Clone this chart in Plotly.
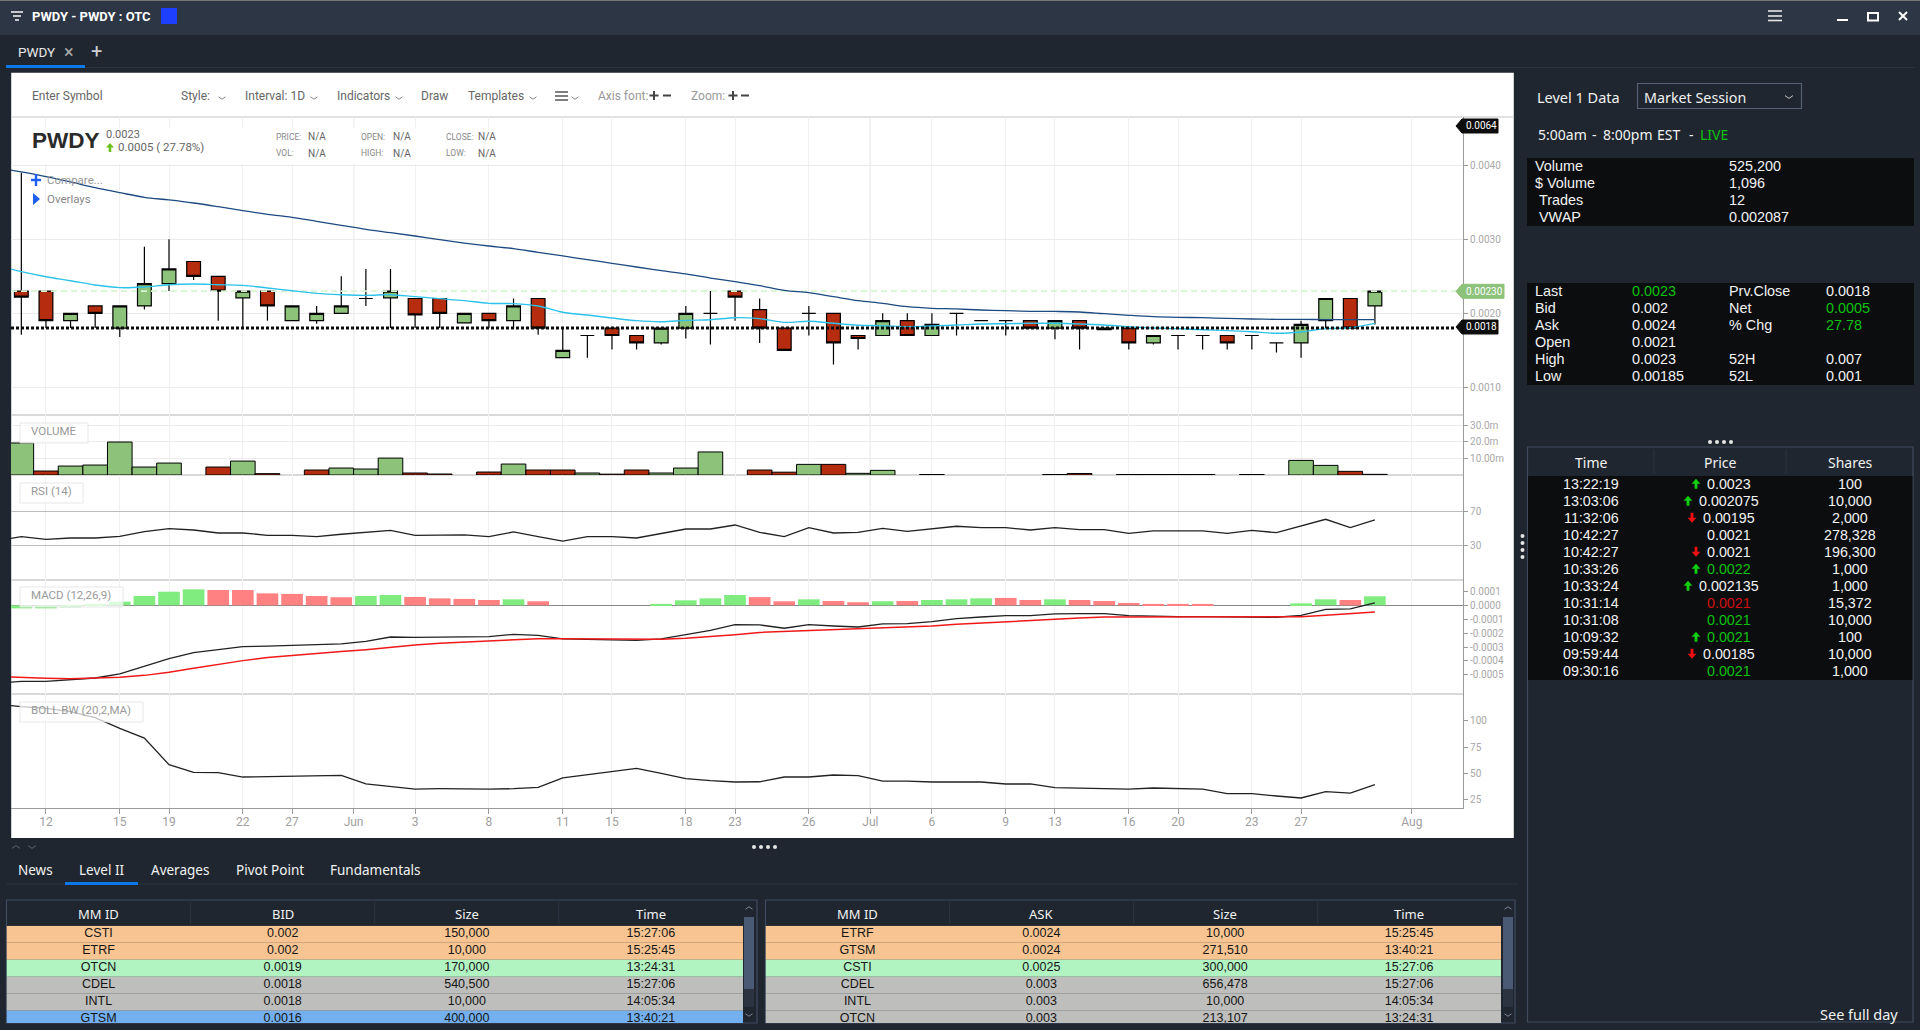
import plotly.graph_objects as go

W, H = 1920, 1030

# ---------- chart data ----------
idx = list(range(56))
line_idx = [-1] + idx
opens = [0.0023,0.0023,0.0019,0.0021,0.0018,0.0021,0.0024,0.0027,0.0025,0.00221,0.0023,0.0019,0.0019,0.0020,0.0022,0.00221,
         0.0022,0.0022,0.00187,0.0020,0.0019,0.0022,0.0014,0.0017,0.0018,0.0017,0.0016,0.0018,0.0020,0.0023,0.00205,0.0018,
         0.0020,0.0020,0.0017,0.0017,0.0019,0.0017,0.0020,0.0019,0.0019,0.0019,0.0018,0.0019,0.0018,0.0018,0.0016,0.0017,
         0.0017,0.0017,0.0017,0.0016,0.0016,0.0019,0.0022,0.0021]
highs = [0.0039,0.0023,0.0020,0.0021,0.0021,0.0029,0.0030,0.0027,0.0025,0.0023,0.0023,0.0021,0.0021,0.0025,0.0026,0.0026,
         0.0022,0.0022,0.0020,0.0020,0.0022,0.0022,0.0018,0.0017,0.0018,0.0017,0.0018,0.0021,0.0023,0.0023,0.0022,0.0018,
         0.0021,0.0020,0.0017,0.0020,0.0020,0.0020,0.0020,0.0019,0.0019,0.0019,0.0019,0.0019,0.0018,0.0018,0.0017,0.0017,
         0.0017,0.0017,0.0017,0.0016,0.0019,0.0022,0.0022,0.0023]
lows = [0.00171,0.0018,0.0018,0.0018,0.00168,0.00205,0.0023,0.00245,0.0019,0.0018,0.0019,0.0019,0.00186,0.0020,0.0021,0.0018,
        0.0018,0.0018,0.00187,0.0018,0.0018,0.00171,0.0014,0.0014,0.00151,0.00151,0.00158,0.00166,0.00158,0.0019,0.0016,0.0015,
        0.0017,0.00131,0.00151,0.0017,0.0017,0.0017,0.0017,0.0019,0.0017,0.0018,0.00165,0.00151,0.00178,0.00151,0.00158,0.00151,
        0.00151,0.00151,0.00151,0.00147,0.0014,0.0018,0.0018,0.00185]
closes = [0.00222,0.0019,0.0020,0.0020,0.0021,0.0024,0.0026,0.0025,0.0023,0.0023,0.0021,0.0021,0.0020,0.0021,0.0022,0.0023,
          0.00198,0.0020,0.0020,0.0019,0.0021,0.0018,0.0015,0.0017,0.0017,0.0016,0.0018,0.0020,0.0020,0.00222,0.0018,0.0015,
          0.0020,0.0016,0.00166,0.0019,0.0017,0.00185,0.0020,0.0019,0.0019,0.0018,0.0019,0.0018,0.00178,0.0016,0.0017,0.0017,
          0.0017,0.0016,0.0017,0.0016,0.00185,0.0022,0.0018,0.0023]
slow_ma = [0.003968,0.00391,0.003847,0.003775,0.003698,0.003631,0.003568,0.003532,0.003491,0.003441,0.003387,0.003338,0.003297,0.003243,0.003189,0.003135,0.00309,
           0.003045,0.002995,0.00295,0.00291,0.002874,0.002824,0.002775,0.002725,0.002676,0.002626,0.002577,0.002532,0.002477,0.002428,0.002374,0.002311,
           0.002279,0.002225,0.002171,0.002135,0.00209,0.002068,0.002059,0.002045,0.002036,0.002027,0.002025,0.002018,0.001995,0.001973,0.001955,0.001946,
           0.001941,0.001932,0.001923,0.001919,0.001919,0.001914,0.001914,0.001914]
fast_ma = [0.002649,0.002563,0.002495,0.002441,0.002383,0.002347,0.002356,0.002387,0.002396,0.002387,0.002378,0.002342,0.002306,0.00227,0.002252,0.002243,0.002252,
           0.002225,0.002198,0.002171,0.002135,0.002131,0.002099,0.002014,0.001977,0.001937,0.001901,0.001887,0.001905,0.001914,0.001941,0.001928,0.001878,
           0.001892,0.001865,0.001838,0.001833,0.00182,0.001829,0.001842,0.001856,0.00186,0.001865,0.001865,0.001856,0.001842,0.00182,0.001802,0.001793,
           0.001779,0.001766,0.001752,0.00173,0.001748,0.001793,0.001806,0.001865]
volume = [19.3,2.4,5.4,6.0,19.9,4.8,7.2,None,4.8,8.4,0.8,None,3.0,4.2,3.6,10.2,1.2,0.6,None,1.8,6.6,3.0,3.0,1.2,0.5,3.0,1.2,4.2,13.9,None,
          3.0,1.7,6.4,6.4,1.0,2.8,None,0.3,None,None,None,None,0.3,0.9,None,0.3,0.3,0.3,0.3,None,0.3,None,8.8,5.8,2.2,0.4]
volume_side = ["g","r","g","g","g","g","g","g","r","g","r","g","r","g","g","g","r","r","g","r","g","r","r","g","r","r","g","g","g","g",
               "r","r","g","r","g","g","g","r","g","g","g","g","r","r","g","r","r","r","r","g","r","g","g","g","r","r"]
rsi = [35.5,40.2,37,38.6,38.6,40.6,46.1,49.6,48,44.5,44.5,41.8,41.8,40.2,43,45.3,47.6,41.8,42.2,42.2,40.2,45.7,40.2,35,40.2,40.2,38.6,44.1,49.2,49.2,53.9,45.3,40.2,
       50.8,44.5,45.3,50,46.5,49.6,52.4,50.8,50.8,48,50.8,48.4,48.4,44.1,46.9,46.9,46.9,44.1,47.6,44.9,52.4,60.6,50.8,59.8]
macd_hist = [-0.22,-0.22,-0.14,0.07,0.26,0.67,0.98,1.15,1.1,1.1,0.86,0.82,0.67,0.58,0.67,0.74,0.6,0.5,0.46,0.38,0.43,0.29,0,0,0,0,0.1,0.36,0.5,0.74,0.59,0.29,
             0.43,0.31,0.22,0.29,0.31,0.38,0.43,0.5,0.53,0.38,0.43,0.38,0.31,0.17,0.1,0.1,0.1,0,0,0,0.14,0.43,0.38,0.65]
hist_side = ["g","g","g","g","g","g","g","g","r","r","r","r","r","r","g","g","r","r","r","r","g","r","g","g","g","g","g","g","g","g","r","r",
             "g","r","r","g","r","g","g","g","r","r","g","r","r","r","r","r","r","g","g","g","g","g","r","g"]
macd_line = [-5.61,-5.47,-5.47,-5.35,-5.23,-4.94,-4.41,-3.84,-3.41,-3.19,-2.97,-2.93,-2.88,-2.88,-2.78,-2.59,-2.28,-2.3,-2.28,-2.25,-2.25,-2.09,-2.16,-2.42,-2.47,-2.47,-2.52,-2.42,-2.09,-1.8,-1.39,-1.41,-1.65,
             -1.39,-1.49,-1.56,-1.34,-1.32,-1.18,-0.96,-0.84,-0.74,-0.74,-0.62,-0.6,-0.6,-0.74,-0.79,-0.82,-0.82,-0.84,-0.84,-0.86,-0.72,-0.29,-0.26,0.17]
macd_signal = [-5.13,-5.2,-5.25,-5.28,-5.25,-5.18,-5.04,-4.82,-4.53,-4.24,-3.98,-3.76,-3.6,-3.45,-3.33,-3.19,-3.0,-2.85,-2.73,-2.64,-2.54,-2.47,-2.4,-2.4,-2.42,-2.45,-2.47,-2.45,-2.37,-2.25,-2.11,-1.95,-1.89,
               -1.8,-1.75,-1.68,-1.63,-1.56,-1.49,-1.37,-1.27,-1.18,-1.08,-0.98,-0.91,-0.84,-0.84,-0.82,-0.82,-0.82,-0.84,-0.84,-0.84,-0.82,-0.72,-0.62,-0.48]
boll_bw = [115.8,113.3,111.7,108.5,102.8,92.7,83.5,58.2,50.9,50.6,46.5,46.8,46.8,47.5,48.1,39.9,37.3,35.1,35.4,35.1,35.1,35.4,36.7,45.6,48.7,51.9,54.7,50,44.9,43,41.8,42,46.5,
           46.5,48.4,47.8,42.7,42.7,41.8,41.8,41.8,39.9,39.9,36.4,35.8,35.1,35.1,36.1,35.8,35.1,30.7,30.7,28.5,26.6,32.6,31.3,39.2]
last_price = 0.0023
prev_close = 0.0018

x_ticks = [1,4,6,9,11,13.5,16,19,22,24,27,29,32,34.5,37,40,42,45,47,50,52,56.5]
x_labels = ["12","15","19","22","27","Jun","3","8","11","15","18","23","26","Jul","6","9","13","16","20","23","27","Aug"]
month_ticks = [13.5, 34.5]
price_ticks = [0.001,0.002,0.003,0.004]
price_labels = ["0.0010","0.0020","0.0030","0.0040"]
vol_ticks = [10,20,30]
vol_labels = ["10.00m","20.0m","30.0m"]
rsi_ticks = [30,70]
macd_ticks = [1,0,-1,-2,-3,-4,-5]
macd_labels = ["0.0001","0.0000","-0.0001","-0.0002","-0.0003","-0.0004","-0.0005"]
boll_ticks = [25,50,75,100]

# ---------- side tables ----------
bid_rows = [["CSTI","0.002","150,000","15:27:06"],["ETRF","0.002","10,000","15:25:45"],["OTCN","0.0019","170,000","13:24:31"],
            ["CDEL","0.0018","540,500","15:27:06"],["INTL","0.0018","10,000","14:05:34"],["GTSM","0.0016","400,000","13:40:21"]]
ask_rows = [["ETRF","0.0024","10,000","15:25:45"],["GTSM","0.0024","271,510","13:40:21"],["CSTI","0.0025","300,000","15:27:06"],
            ["CDEL","0.003","656,478","15:27:06"],["INTL","0.003","10,000","14:05:34"],["OTCN","0.003","213,107","13:24:31"]]
bid_colors = ["#f8c592","#f8c592","#b1f3c1","#bebebc","#bebebc","#74b0f0"]
ask_colors = ["#f8c592","#f8c592","#b1f3c1","#bebebc","#bebebc","#bebebc"]
bid_head = ["MM ID","BID","Size","Time"]
ask_head = ["MM ID","ASK","Size","Time"]
trades = [("13:22:19","u","0.0023","w","100"),("13:03:06","u","0.002075","w","10,000"),("11:32:06","d","0.00195","w","2,000"),
          ("10:42:27","","0.0021","w","278,328"),("10:42:27","d","0.0021","w","196,300"),("10:33:26","u","0.0022","g","1,000"),
          ("10:33:24","u","0.002135","w","1,000"),("10:31:14","","0.0021","r","15,372"),("10:31:08","","0.0021","g","10,000"),
          ("10:09:32","u","0.0021","g","100"),("09:59:44","d","0.00185","w","10,000"),("09:30:16","","0.0021","g","1,000")]
level1_a = [("Volume",1535,"525,200"),("$ Volume",1535,"1,096"),("Trades",1539,"12"),("VWAP",1539,"0.002087")]
level1_b = [("Last","0.0023","g","Prv.Close","0.0018","w"),("Bid","0.002","w","Net","0.0005","g"),("Ask","0.0024","w","% Chg","27.78","g"),
            ("Open","0.0021","w","","","w"),("High","0.0023","w","52H","0.007","w"),("Low","0.00185","w","52L","0.001","w")]
session_words = [("5:00am",1537.7),("-",1591.7),("8:00pm",1603),("EST",1657),("-",1689)]
tabs = [("News",35),("Level II",101.5),("Averages",180),("Pivot Point",270),("Fundamentals",375)]
toolbar = [("Enter Symbol",31.5,"#666"),("Style:",181,"#666"),("Interval: 1D",245,"#666"),("Indicators",337,"#666"),("Draw",421,"#666"),
           ("Templates",468,"#666"),("Axis font:",598,"#999"),("Zoom:",691,"#999")]
chevrons = [222,314,399,533,575]

# ---------- pixel layout ----------
PL, PR = 11, 1463
panels = {"":(117,415),"2":(415,475),"3":(475,580),"4":(580,694),"5":(694,808)}
X_RANGE = [-0.42, 58.58]
GRID = "#ebebeb"
AXC = "#9a9a9a"
TICK = dict(family="Roboto", size=10, color="#a8a8a8")
BG, TITLEBG, BLACK = "#1f2630", "#2c3645", "#0b0d0f"
WHITE, GREEN_T, RED_T = "#f2f2f2", "#10c010", "#d01010"

px = lambda x: x / W
py = lambda y: 1 - y / H
shapes, notes = [], []

def rect(x0, y0, x1, y1, fill, line=None, lw=1, layer="below"):
    shapes.append(dict(type="rect", xref="paper", yref="paper", x0=px(x0), x1=px(x1), y0=py(y1), y1=py(y0),
                       fillcolor=fill, line=dict(color=line or "rgba(0,0,0,0)", width=lw if line else 0), layer=layer))

def poly(points, color=None, fill=None, lw=1.2, layer="above", close=False):
    d = "M" + " L".join(f"{px(a):.5f},{py(b):.5f}" for a, b in points) + (" Z" if close else "")
    shapes.append(dict(type="path", path=d, xref="paper", yref="paper", fillcolor=fill or "rgba(0,0,0,0)",
                       line=dict(color=color or "rgba(0,0,0,0)", width=lw if color else 0), layer=layer))

def hline(x0, x1, y, color, lw=1, layer="below"):
    poly([(x0, y), (x1, y)], color=color, lw=lw, layer=layer)

def vline(x, y0, y1, color, lw=1, layer="below"):
    poly([(x, y0), (x, y1)], color=color, lw=lw, layer=layer)

def chevron(x, y, s=4, color="#888", up=False):
    d = -s*0.7 if up else s*0.7
    poly([(x-s, y-d/2), (x, y+d/2), (x+s, y-d/2)], color=color, lw=1)

def dot(x, y, r=2, color="#e6e6e6"):
    shapes.append(dict(type="circle", xref="paper", yref="paper", x0=px(x-r), x1=px(x+r), y0=py(y+r), y1=py(y-r),
                       fillcolor=color, line=dict(width=0), layer="above"))

def arrow_mark(x, y, up, color, s=1.1):
    k = -1 if up else 1
    pts = [(x, y+k*4.5*s), (x+4*s, y), (x+1.3*s, y), (x+1.3*s, y-k*4.5*s), (x-1.3*s, y-k*4.5*s), (x-1.3*s, y), (x-4*s, y)]
    poly(pts, fill=color, close=True)

def text(x, y, s, size=12, color="#666", font="Roboto", anchor="left"):
    notes.append(dict(text=s, x=px(x), y=py(y), xref="paper", yref="paper", showarrow=False, xanchor=anchor, yanchor="middle",
                      font=dict(family=font, size=size, color=color), borderpad=0, borderwidth=0))

SANS, ARIAL = "Noto Sans", "Liberation Sans"
shade = {"w": WHITE, "g": GREEN_T, "r": RED_T}

# window chrome
rect(0, 0, W, 35, TITLEBG)
hline(0, W, 0.5, "#777")
poly([(11,12),(23,12)], color="#eee", lw=1.6); poly([(13,16),(21,16)], color="#eee", lw=1.6); poly([(15,20),(19,20)], color="#eee", lw=1.6)
text(31.5, 16.5, "<b>PWDY - PWDY : OTC</b>", 13, "#ffffff")
rect(161, 8, 177, 24, "#1f3fff")
for yy in (11, 16, 20.5):
    hline(1768, 1782, yy, "#e6e6e6", 1.6, "above")
hline(1837, 1848, 20, "#ffffff", 2, "above")
rect(1868, 13, 1878, 20.5, "rgba(0,0,0,0)", "#ffffff", 2, "above")
poly([(1899,12),(1907,20)], color="#fff", lw=2); poly([(1899,20),(1907,12)], color="#fff", lw=2)
hline(6, 1915, 67.5, "#2c3440")
text(18, 52, "PWDY", 13.5, "#e8e8e8")
text(69, 51, "×", 18, "#aaa", anchor="center")
text(96.5, 51, "+", 20, "#cfcfcf", anchor="center")
rect(6, 65, 85, 68, "#0a78e8")

# chart panel
rect(11.2, 72.7, 1513.8, 838, "#ffffff")
hline(11, 1513.8, 117, "#d8d8d8", 1.5)
for t, xx, c in toolbar:
    text(xx, 96, t, 12, c)
for c in chevrons:
    chevron(c, 98, 3.5)
for yy in (92, 96, 100):
    hline(555, 568, yy, "#555", 1.5, "above")
for xx in (654, 733):
    hline(xx-4.5, xx+4.5, 95.5, "#444", 2, "above")
    vline(xx, 91, 100, "#444", 2, "above")
for xx in (667, 745):
    hline(xx-4, xx+4, 95.5, "#444", 2, "above")

# panel separators
for yy in (415, 475, 580, 694):
    hline(PL, PR, yy, "#cccccc", 1.5, "between")

# masks + labels on chart
rect(15, 128, 498, 164, "#ffffff", layer="above")
text(32, 141, "<b>PWDY</b>", 22.5, "#2a2a2a", "Liberation Sans")
text(106, 134, "0.0023", 11, "#666")
arrow_mark(110, 147.5, True, "#6cc01c", 1.0)
text(118, 147, "0.0005 ( 27.78%)", 11.5, "#666")
for label, xl, xv, yy in (("PRICE:",276,308,136.5),("VOL:",276,308,153),("OPEN:",361,393,136.5),("HIGH:",361,393,153),("CLOSE:",446,478,136.5),("LOW:",446,478,153)):
    text(xl, yy, label, 8.5, "#888"); text(xv, yy, "N/A", 10, "#666")
poly([(36,174),(36,186)], color="#1f5ff0", lw=2.4); poly([(31,180),(41,180)], color="#1f5ff0", lw=2.4)
text(47, 180, "Compare...", 11.5, "#999")
poly([(33,193),(40,199),(33,205)], fill="#1f5ff0", close=True)
text(47, 199, "Overlays", 11.5, "#888")
for t, x1, y0, y1 in (("VOLUME",88,423,443),("RSI (14)",83,483,503),("MACD (12,26,9)",123,587,607),("BOLL BW (20,2,MA)",143,702,722)):
    rect(20, y0, x1, y1, "rgba(255,255,255,0.72)", "rgba(225,225,225,0.8)", 1, "above")
    text(31, (y0+y1)/2-2, t, 11.5, "#999")

# price tags
def tag(y, right, fill, label, cx):
    poly([(1456,y),(1462,y-7),(right,y-7),(right,y+7),(1462,y+7)], fill=fill, color=fill, lw=1, close=True)
    text(cx, y, label, 10, "#ffffff", "Roboto", "center")
tag(126, 1498, "#0d0d0d", "0.0064", 1481)
tag(291.3, 1504, "#8dc27a", "0.00230", 1484)
tag(327, 1498, "#0d0d0d", "0.0018", 1481)

# right panel
text(1537, 97, "Level 1 Data", 14.5, WHITE, SANS)
rect(1637.5, 83.5, 1801.5, 108.5, "rgba(0,0,0,0)", "#566074", 1.2)
text(1644, 97.5, "Market Session", 14.3, WHITE, SANS)
chevron(1789, 97, 4, "#c8c8c8")
for word, xx in session_words:
    text(xx, 134, word, 14, WHITE, SANS)
text(1700, 134, "LIVE", 14, GREEN_T, SANS)
rect(1527, 158, 1914, 226, BLACK)
for i, (a, ax, b) in enumerate(level1_a):
    y = 166 + i*17
    text(ax, y, a, 14.4, WHITE, ARIAL); text(1729, y, b, 14.4, WHITE, ARIAL)
rect(1527, 283, 1914, 385, BLACK)
for i, (a, b, bc, c, d, dc) in enumerate(level1_b):
    y = 291 + i*17
    text(1535, y, a, 14.4, WHITE, ARIAL); text(1632, y, b, 14.4, shade[bc], ARIAL)
    if c:
        text(1729, y, c, 14.4, WHITE, ARIAL); text(1826, y, d, 14.4, shade[dc], ARIAL)
for xx in (1710, 1717, 1724, 1731):
    dot(xx, 442)
for yy in (536, 543, 550, 557):
    dot(1522.5, yy)
rect(1527.5, 447, 1913, 1022, "rgba(0,0,0,0)", "#414b5c", 1.2)
rect(1528, 476, 1912.5, 680, BLACK)
for xx in (1654, 1786):
    vline(xx, 449, 474, "#2c3440")
for t, xx in (("Time",1591),("Price",1720),("Shares",1850)):
    text(xx, 463, t, 14, WHITE, SANS, "center")
for i, (t, d, p, c, s) in enumerate(trades):
    y = 483.7 + i*17
    text(1591, y, t, 14.3, WHITE, ARIAL, "center")
    text(1729, y, p, 14.3, shade[c], ARIAL, "center")
    text(1850, y, s, 14.3, WHITE, ARIAL, "center")
    if d:
        arrow_mark(1729 - len(p)*4 - 9, y, d == "u", "#10d010" if d == "u" else "#f01010")
text(1898, 1014, "See full day", 14.5, WHITE, SANS, "right")

# bottom tabs
chevron(16, 847, 4, "#5a6474", up=True); chevron(32, 847, 4, "#5a6474")
for xx in (754, 761, 768, 775):
    dot(xx, 847)
hline(6, 1518, 884, "#2c3440")
rect(65, 882, 138, 885, "#0a78e8")
for t, xx in tabs:
    text(xx, 869.5, t, 13.5, WHITE, SANS, "center")

def book(x0, x1, right, sep, thumb, heads):
    rect(x0, 900, x1, 1023, "rgba(0,0,0,0)", "#3f4b60", 1.2)
    for s in sep:
        vline(s, 902, 924, "#2c3440")
    for h, s in zip(heads, [x0 + (right-x0)*(i+0.5)/4 for i in range(4)]):
        text(s, 913.5, h, 13, WHITE, SANS, "center")
    rect(thumb[0], 917, thumb[1], 989, "#4a5a75")
    rect(thumb[0], 989, thumb[1], 1007, "#2b3340")
    chevron((thumb[0]+thumb[1])/2, 908, 3.5, "#7c8698", up=True); chevron((thumb[0]+thumb[1])/2, 1015, 3.5, "#7c8698")
book(6.5, 757, 743, (190.5, 374.6, 558.7), (744, 754), bid_head)
book(765.5, 1515, 1501, (949.5, 1133.6, 1317.7), (1503, 1513), ask_head)

fig = go.Figure()

def add_book(rows, colors, ax):
    for r, c in enumerate(colors):
        shapes.append(dict(type="rect", xref=f"x{ax}", yref=f"y{ax}", x0=0, x1=4, y0=r, y1=r+1, fillcolor=c, line=dict(width=0), layer="below"))
    xs, ys, tx = [], [], []
    for r, row in enumerate(rows):
        for c, v in enumerate(row):
            xs.append(c + 0.5); ys.append(r + 0.5); tx.append(v)
    fig.add_trace(go.Scatter(x=xs, y=ys, text=tx, mode="text", textposition="middle center", cliponaxis=True,
                             textfont=dict(family=ARIAL, size=12.5, color="#151515"), xaxis=f"x{ax}", yaxis=f"y{ax}",
                             hoverinfo="skip", showlegend=False))
add_book(bid_rows, bid_colors, 6)
add_book(ask_rows, ask_colors, 7)

# month lines
for m in month_ticks:
    shapes.append(dict(type="line", xref="x", yref="paper", x0=m, x1=m, y0=py(808), y1=py(117), line=dict(color="#cfcfcf", width=1.2), layer="between"))

# ---------- traces ----------
fig.add_trace(go.Scatter(x=[X_RANGE[0], 58.29], y=[last_price]*2, mode="lines", line=dict(color="#d6f5d0", width=1.6, dash="6px,4px"), hoverinfo="skip", showlegend=False))
fig.add_trace(go.Candlestick(x=idx, open=opens, high=highs, low=lows, close=closes, whiskerwidth=0,
    increasing=dict(fillcolor="#8dc27a", line=dict(color="#000000", width=1.2)),
    decreasing=dict(fillcolor="#b52c0e", line=dict(color="#000000", width=1.2)), showlegend=False, hoverinfo="skip"))
fig.add_trace(go.Scatter(x=line_idx, y=slow_ma, mode="lines", line=dict(color="#1d4a80", width=1.3, shape="spline"), hoverinfo="skip", showlegend=False))
fig.add_trace(go.Scatter(x=line_idx, y=fast_ma, mode="lines", line=dict(color="#2dc2ea", width=1.4, shape="spline"), hoverinfo="skip", showlegend=False))
fig.add_trace(go.Scatter(x=[X_RANGE[0], 58.29], y=[prev_close]*2, mode="lines", line=dict(color="#0a0a0a", width=3, dash="3px,2px"), hoverinfo="skip", showlegend=False))

fig.add_trace(go.Bar(x=idx, y=volume, width=1, xaxis="x2", yaxis="y2", hoverinfo="skip", showlegend=False,
                     marker=dict(color=["#8dc27a" if s == "g" else "#b52c0e" for s in volume_side], line=dict(color="#000", width=1))))
fig.add_trace(go.Scatter(x=line_idx, y=rsi, xaxis="x3", yaxis="y3", mode="lines", line=dict(color="#222", width=1.3), hoverinfo="skip", showlegend=False))
fig.add_trace(go.Bar(x=idx, y=macd_hist, width=0.88, xaxis="x4", yaxis="y4", hoverinfo="skip", showlegend=False,
                     marker=dict(color=["#80ec80" if s == "g" else "#ff8181" for s in hist_side], line=dict(width=0))))
fig.add_trace(go.Scatter(x=line_idx, y=macd_line, xaxis="x4", yaxis="y4", mode="lines", line=dict(color="#222", width=1.3), hoverinfo="skip", showlegend=False))
fig.add_trace(go.Scatter(x=line_idx, y=macd_signal, xaxis="x4", yaxis="y4", mode="lines", line=dict(color="#f01818", width=1.5), hoverinfo="skip", showlegend=False))
fig.add_trace(go.Scatter(x=line_idx, y=boll_bw, xaxis="x5", yaxis="y5", mode="lines", line=dict(color="#222", width=1.3), hoverinfo="skip", showlegend=False))

# ---------- axes ----------
layout = {}
yspec = {
    "": dict(range=[0.000626, 0.004653], tickvals=price_ticks, ticktext=price_labels, showgrid=True),
    "2": dict(range=[0, 36.2], tickvals=vol_ticks, ticktext=vol_labels, showgrid=True),
    "3": dict(range=[-10.8, 112.7], tickvals=rsi_ticks, showgrid=True, gridcolor="#bdbdbd"),
    "4": dict(range=[-6.38, 1.82], tickvals=macd_ticks, ticktext=macd_labels, showgrid=False, zeroline=True, zerolinecolor="#888", zerolinewidth=1.4),
    "5": dict(range=[17.1, 125.3], tickvals=boll_ticks, showgrid=False),
}
for k, (t, b) in panels.items():
    bottom = k == "5"
    layout[f"xaxis{k}"] = dict(domain=[px(PL), px(PR)], range=X_RANGE, anchor=f"y{k}", tickmode="array", tickvals=x_ticks, ticktext=x_labels,
                               showticklabels=bottom, ticks="outside" if bottom else "", ticklen=5, tickcolor=AXC, ticklabelstandoff=-3,
                               tickfont=dict(family="Roboto", size=12, color="#a0a0a0"), showgrid=True, gridcolor="#f0f0f0", gridwidth=1,
                               zeroline=False, showline=bottom, linecolor=AXC, linewidth=1.2, rangeslider=dict(visible=False), fixedrange=True)
    spec = dict(yspec[k])
    spec.setdefault("gridcolor", GRID)
    spec.setdefault("zeroline", False)
    layout[f"yaxis{k}"] = dict(domain=[py(b), py(t)], anchor=f"x{k}", side="right", tickmode="array", ticks="outside", ticklen=4, tickcolor=AXC,
                               tickfont=TICK, showline=True, linecolor=AXC, linewidth=1.2, fixedrange=True, **spec)
for ax, (l, r) in {"6": (6.5, 743), "7": (765.5, 1501)}.items():
    layout[f"xaxis{ax}"] = dict(domain=[px(l), px(r)], range=[0, 4], visible=False, anchor=f"y{ax}", fixedrange=True)
    layout[f"yaxis{ax}"] = dict(domain=[py(1023), py(925.7)], range=[5.72, 0], visible=False, anchor=f"x{ax}", fixedrange=True)

fig.update_layout(width=W, height=H, margin=dict(l=0, r=0, t=0, b=0), paper_bgcolor=BG, plot_bgcolor="rgba(0,0,0,0)",
                  shapes=shapes, annotations=notes, showlegend=False, barmode="overlay", boxgap=0.2, hovermode=False, **layout)

fig.write_html("out.html", config=dict(displayModeBar=False), post_script="document.body.style.margin='0';document.body.style.overflow='hidden';")
